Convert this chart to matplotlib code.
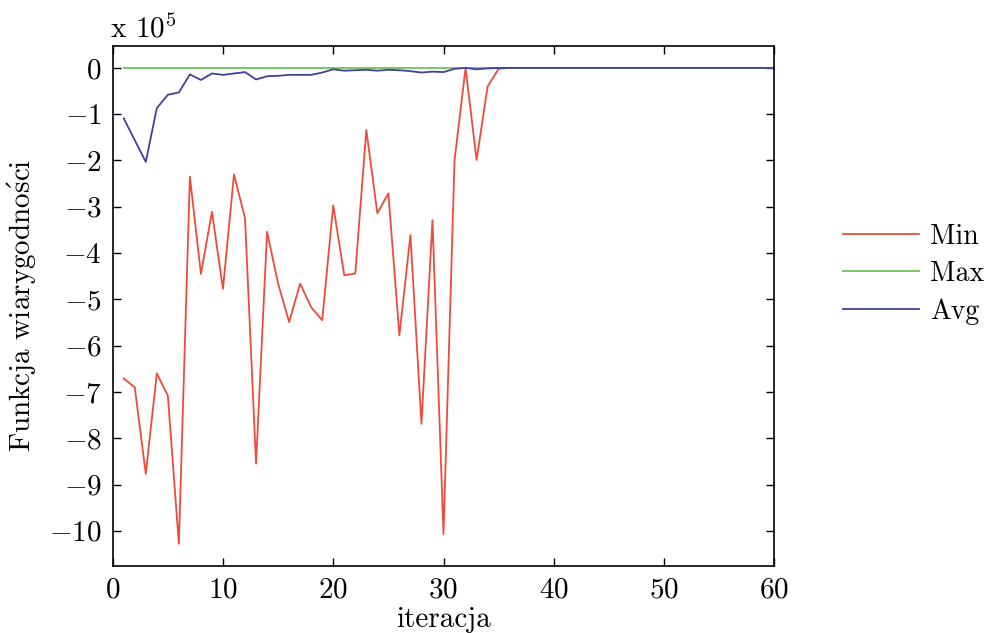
import matplotlib
matplotlib.use("Agg")
import matplotlib.pyplot as plt
import numpy as np

plt.rcParams['font.family'] = ['cmr10', 'DejaVu Serif']
plt.rcParams['mathtext.fontset'] = 'cm'
plt.rcParams['axes.formatter.use_mathtext'] = True
plt.rcParams['axes.unicode_minus'] = True

iterations = list(range(1, 61))

min_vals = [-6.71, -6.9, -8.77, -6.6, -7.08, -10.28, -2.35, -4.45, -3.11, -4.77,
            -2.3, -3.25, -8.55, -3.54, -4.66, -5.49, -4.66, -5.17, -5.45, -2.97,
            -4.48, -4.44, -1.34, -3.14, -2.71, -5.78, -3.61, -7.69, -3.29, -10.07,
            -2.0, 0.0, -1.99, -0.40, -0.02] + [0.0] * 25

max_vals = [0.0] * 60

avg_vals = [-1.09, -1.56, -2.03, -0.87, -0.58, -0.53, -0.14, -0.26, -0.12, -0.15,
            -0.12, -0.09, -0.25, -0.18, -0.17, -0.15, -0.15, -0.15, -0.10, -0.03,
            -0.06, -0.05, -0.04, -0.06, -0.04, -0.05, -0.07, -0.10, -0.08, -0.09,
            -0.02, 0.0, -0.03, -0.01, 0.0] + [0.0] * 25

series_names = ["Min", "Max", "Avg"]
colors = ["#f04a3a", "#6cc35a", "#4040a0"]

FS = 21

fig = plt.figure(figsize=(9.88, 6.33), dpi=100)
ax = fig.add_axes([112.7/988, 1 - 566/633, (774.3-112.7)/988, (566-45.7)/633])

for vals, name, c in zip([min_vals, max_vals, avg_vals], series_names, colors):
    ax.plot(iterations, vals, color=c, lw=1.3, label=name)

ax.set_xlim(0, 60)
ax.set_ylim(-10.76, 0.48)
ax.set_xticks(range(0, 61, 10))
ax.set_yticks(range(-10, 1, 1))
ax.tick_params(direction='in', top=True, right=True, length=6, width=1, labelsize=FS, pad=8)
for s in ax.spines.values():
    s.set_linewidth(1.2)

ax.set_xlabel("iteracja", fontsize=FS, labelpad=2)
ax.set_ylabel("Funkcja wiarygodno$\\acute{\\mathrm{s}}$ci", fontsize=FS, labelpad=7)

fig.text(110/988, 1 - 37/633, "x $10^5$", fontsize=FS, ha='left', va='baseline')

leg = fig.legend(loc='center left', bbox_to_anchor=(843/988, 1 - 274/633),
                 bbox_transform=fig.transFigure, frameon=False, borderaxespad=0, borderpad=0,
                 fontsize=20, handlelength=2.75, handletextpad=0.38, labelspacing=0.4)

fig.savefig("out.png", dpi=100)
